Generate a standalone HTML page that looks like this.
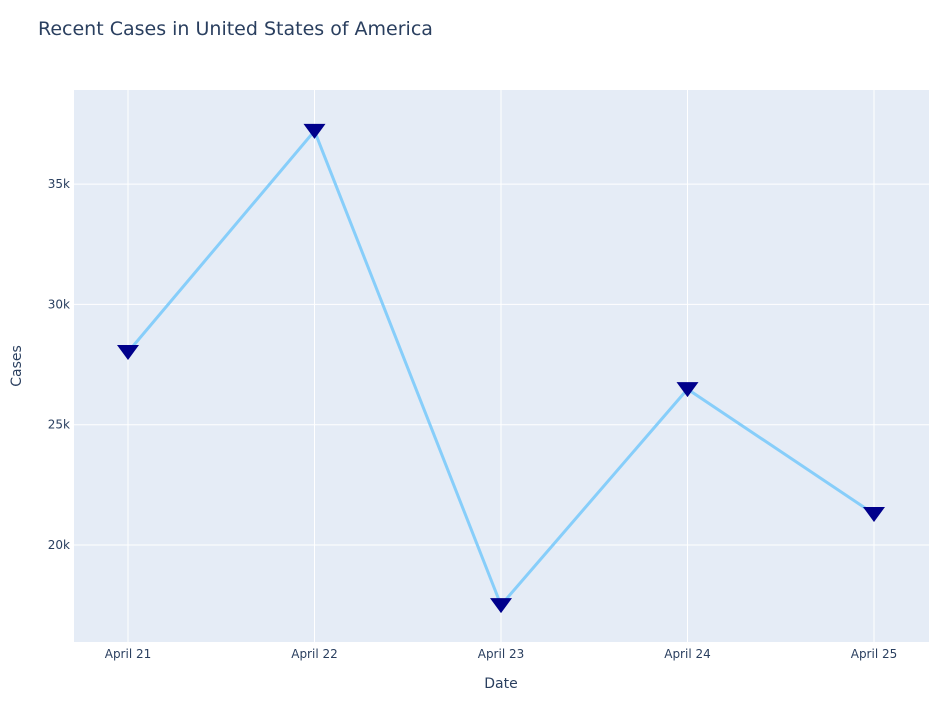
<!DOCTYPE html>
<html><head><meta charset="utf-8"><style>
body{margin:0;background:#fff;}
svg{display:block;font-family:"DejaVu Sans","Liberation Sans",sans-serif;}
</style></head><body>
<svg id="chart" width="943" height="703">
<text x="38" y="35" font-size="19" fill="#2a3f5f">Recent Cases in United States of America</text>
<rect x="74" y="90" width="855" height="552" fill="#e5ecf6"/>
<g id="grid"></g>
<g id="series"></g>
<g id="ticks"></g>
<text x="501" y="688" font-size="14" fill="#2a3f5f" text-anchor="middle">Date</text>
<text transform="translate(21,366) rotate(-90)" font-size="14" fill="#2a3f5f" text-anchor="middle">Cases</text>
</svg>
<script>
const categories=["April 21","April 22","April 23","April 24","April 25"];
const cases=[28020,37210,17500,26480,21290];
const yTicks=[20000,25000,30000,35000];
const yTickLabels=["20k","25k","30k","35k"];
const NS="http://www.w3.org/2000/svg";
function xs(i){return 128+i*186.5;}
function ys(v){return 545-(v-20000)/5000*120.3;}
function mk(tag,attrs,parent){const e=document.createElementNS(NS,tag);for(const k in attrs)e.setAttribute(k,attrs[k]);document.getElementById(parent).appendChild(e);return e;}
yTicks.forEach((t,i)=>{
  const l=mk("line",{x1:74,x2:929,y1:ys(t),y2:ys(t),stroke:"#fff","stroke-width":1},"grid");
  
  
  const tx=mk("text",{x:70,y:ys(t)+4,"font-size":12,fill:"#2a3f5f","text-anchor":"end"},"ticks");
  tx.textContent=yTickLabels[i];
  
  
});
categories.forEach((c,i)=>{
  const l=mk("line",{x1:xs(i),x2:xs(i),y1:90,y2:642,stroke:"#fff","stroke-width":1},"grid");
  
  
  const tx=mk("text",{x:xs(i),y:658,"font-size":12,fill:"#2a3f5f","text-anchor":"middle"},"ticks");
  tx.textContent=c;
  
  
});
const pts=cases.map((v,i)=>xs(i)+","+ys(v)).join(" ");
const line=mk("polyline",{points:pts,fill:"none",stroke:"#87cefa","stroke-width":3},"series");


cases.forEach((v,i)=>{
  const x=xs(i),y=ys(v);
  const p=mk("path",{d:`M${x-11},${y-7} L${x+11},${y-7} L${x},${y+8} Z`,fill:"#00008b"},"series");
  
  
});
</script>
</body></html>
